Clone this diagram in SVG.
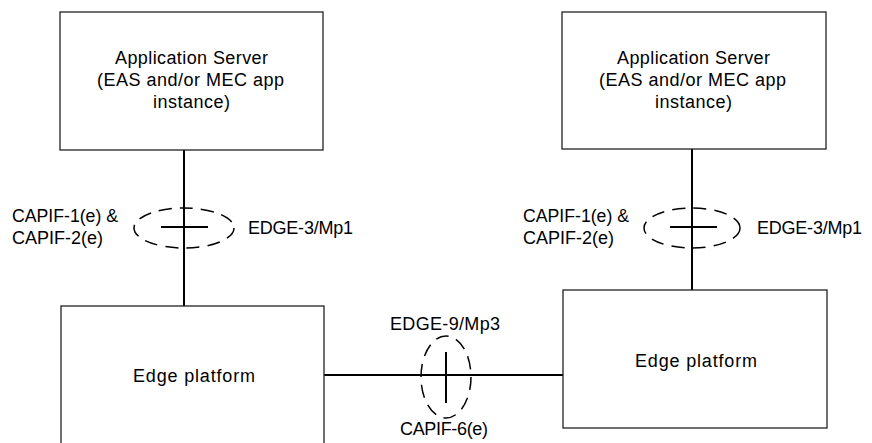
<svg xmlns="http://www.w3.org/2000/svg" width="872" height="443" viewBox="0 0 872 443">
<style>
.box{fill:#fff;stroke:#222;stroke-width:1.3}
.ln{stroke:#000;stroke-width:2;fill:none}
.el{fill:none;stroke:#000;stroke-width:1.5;stroke-dasharray:13 8}
text{font-family:"Liberation Sans",Arial,sans-serif;font-size:18px;fill:#000}
</style>
<rect width="872" height="443" fill="#fff"/>
<g id="connectors">
<line class="ln" x1="184" y1="150" x2="184" y2="306"/>
<line class="ln" x1="692" y1="149" x2="692" y2="290"/>
<line class="ln" x1="324" y1="375" x2="563" y2="375"/>
<ellipse class="el" cx="184" cy="228" rx="50" ry="20"/>
<line class="ln" x1="161" y1="227" x2="208" y2="227"/>
<ellipse class="el" cx="692" cy="228" rx="48" ry="20"/>
<line class="ln" x1="670" y1="227" x2="717" y2="227"/>
<ellipse class="el" cx="446" cy="377" rx="25" ry="41"/>
<line class="ln" x1="446" y1="352" x2="446" y2="403"/>
<text x="12" y="222" textLength="106" lengthAdjust="spacingAndGlyphs">CAPIF-1(e) &amp;</text>
<text x="12" y="244" textLength="91" lengthAdjust="spacingAndGlyphs">CAPIF-2(e)</text>
<text x="248" y="234" textLength="105" lengthAdjust="spacing">EDGE-3/Mp1</text>
<text x="523" y="222" textLength="106" lengthAdjust="spacingAndGlyphs">CAPIF-1(e) &amp;</text>
<text x="523" y="244" textLength="91" lengthAdjust="spacingAndGlyphs">CAPIF-2(e)</text>
<text x="757" y="234" textLength="105" lengthAdjust="spacing">EDGE-3/Mp1</text>
<text x="390" y="330" textLength="110" lengthAdjust="spacing">EDGE-9/Mp3</text>
<text x="400" y="435" textLength="88" lengthAdjust="spacing">CAPIF-6(e)</text>
</g>
<g id="as-left">
<rect class="box" x="60" y="12" width="263" height="138"/>
<text x="115" y="64" textLength="153" lengthAdjust="spacing">Application Server</text>
<text x="97" y="86" textLength="187" lengthAdjust="spacing">(EAS and/or MEC app</text>
<text x="153" y="108" textLength="77" lengthAdjust="spacing">instance)</text>
</g>
<g id="as-right">
<rect class="box" x="562" y="12" width="264" height="137"/>
<text x="617" y="64" textLength="153" lengthAdjust="spacing">Application Server</text>
<text x="599" y="86" textLength="187" lengthAdjust="spacing">(EAS and/or MEC app</text>
<text x="655" y="108" textLength="77" lengthAdjust="spacing">instance)</text>
</g>
<g id="ep-left">
<rect class="box" x="61" y="306" width="263" height="150"/>
<text x="133" y="382" textLength="122" lengthAdjust="spacing">Edge platform</text>
</g>
<g id="ep-right">
<rect class="box" x="563" y="290" width="264" height="138"/>
<text x="635" y="367" textLength="122" lengthAdjust="spacing">Edge platform</text>
</g>
</svg>
